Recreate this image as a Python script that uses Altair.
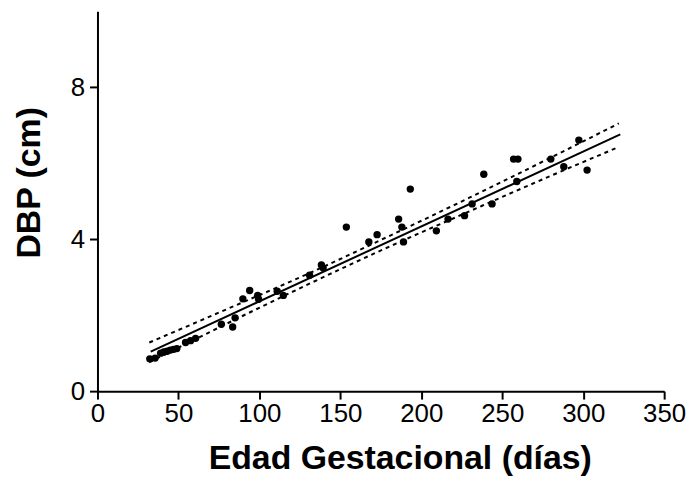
import altair as alt
import pandas as pd

# Observed points: gestational age (days) vs DBP (cm)
edad = [32.3, 35.6, 39, 41, 43, 45, 47, 49, 54.4, 57.5, 60.6, 76.5, 83.5, 85,
        89.8, 94, 98.9, 99.5, 111, 114.8, 131, 138.3, 139.4, 153.7, 167.6,
        172.7, 186, 188, 189, 193.2, 209.3, 216.5, 226.7, 231.4, 238.6, 243.7,
        257, 259.7, 259, 280, 288, 297.3, 302.4]
dbp = [0.85, 0.87, 1.00, 1.03, 1.05, 1.08, 1.10, 1.12, 1.28, 1.33, 1.39, 1.76,
       1.69, 1.93, 2.43, 2.65, 2.52, 2.42, 2.63, 2.52, 3.05, 3.32, 3.24, 4.32,
       3.93, 4.12, 4.53, 4.32, 3.93, 5.32, 4.22, 4.53, 4.62, 4.93, 5.71, 4.93,
       6.11, 6.11, 5.52, 6.11, 5.91, 6.61, 5.82]

# Regression line endpoints
fit_x = [32.9, 322.9]
fit_y = [1.04, 6.76]

# Confidence band
band_x = [32, 80, 130, 180, 230, 280, 322]
band_upper = [1.28, 2.16, 3.09, 4.08, 5.10, 6.15, 7.05]
band_lower = [0.76, 1.78, 2.81, 3.80, 4.74, 5.67, 6.43]

pts = pd.DataFrame({"x": edad, "y": dbp})
fit = pd.DataFrame({"x": fit_x, "y": fit_y})
band = pd.concat([
    pd.DataFrame({"x": band_x, "y": band_upper, "b": "upper"}),
    pd.DataFrame({"x": band_x, "y": band_lower, "b": "lower"}),
])

FONT = "Liberation Sans"
xscale = alt.Scale(domain=[0, 350], nice=False, zero=False)
yscale = alt.Scale(domain=[0, 10], nice=False, zero=False)

common = dict(grid=False, domainColor="black", domainWidth=2, tickColor="black",
              tickWidth=2, tickSize=8, labelFont=FONT, labelFontSize=26,
              labelColor="black", titleFont=FONT, titleFontSize=34,
              titleFontWeight="bold", titleColor="black", labelFlush=False)

xax = alt.Axis(values=list(range(0, 351, 50)), title="Edad Gestacional (días)",
               labelPadding=2, titlePadding=15, titleX=304, **common)
yax = alt.Axis(values=[0, 4, 8], title="DBP (cm)", labelPadding=5,
               titlePadding=24, titleY=172, **common)

points = alt.Chart(pts).mark_circle(color="black", opacity=1, size=55).encode(
    x=alt.X("x:Q", scale=xscale, axis=xax),
    y=alt.Y("y:Q", scale=yscale, axis=yax),
)
line = alt.Chart(fit).mark_line(color="black", strokeWidth=2).encode(
    x=alt.X("x:Q", scale=xscale), y=alt.Y("y:Q", scale=yscale))
bands = alt.Chart(band).mark_line(color="black", strokeWidth=2,
                                  strokeDash=[4, 4], interpolate="monotone").encode(
    x=alt.X("x:Q", scale=xscale), y=alt.Y("y:Q", scale=yscale),
    detail="b:N")

chart = alt.layer(points, line, bands).properties(
    width=570, height=382,
    autosize=alt.AutoSizeParams(type="none"),
    padding={"left": 90, "top": 2, "right": 28, "bottom": 88},
).configure_view(stroke=None)

chart.save("out.html", embed_options={"renderer": "svg", "actions": False})
